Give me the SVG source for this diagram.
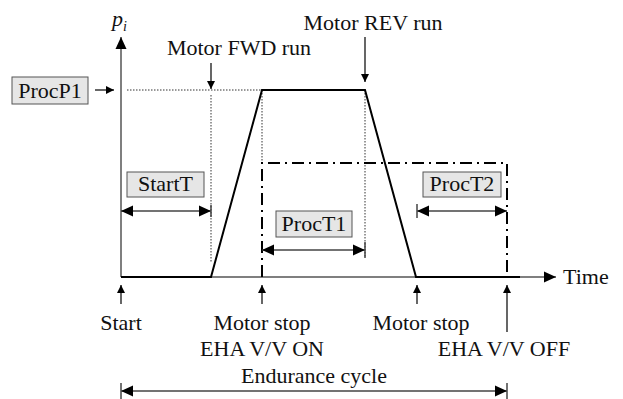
<svg xmlns="http://www.w3.org/2000/svg" width="623" height="399" viewBox="0 0 623 399">
<style>
text{font-family:"Liberation Serif","Times New Roman",serif;font-size:22px;fill:#111}
.mid{text-anchor:middle}
.axis{stroke:#555;stroke-width:1.5;fill:none}
.dim{stroke:#444;stroke-width:1.5;fill:none}
.dot{stroke:#333;stroke-width:1;stroke-dasharray:1.5 1.5;fill:none}
.trace{stroke:#000;stroke-width:2;fill:none;stroke-linejoin:miter}
.dashdot{stroke:#000;stroke-width:2;fill:none;stroke-dasharray:12 5 2 5}
.thin{stroke:#000;stroke-width:1.2;fill:none}
.box{fill:#e6e6e6;stroke:#555;stroke-width:1}
</style>
<defs>
<marker id="big" markerUnits="userSpaceOnUse" markerWidth="13" markerHeight="12" refX="12" refY="6" orient="auto-start-reverse"><path d="M0,0.5 L12,6 L0,11.5 z" fill="#000"/></marker>
<marker id="small" markerUnits="userSpaceOnUse" markerWidth="9" markerHeight="9" refX="8" refY="4.5" orient="auto-start-reverse"><path d="M0,0.5 L8,4.5 L0,8.5 z" fill="#000"/></marker>
</defs>
<g id="connectors">
<line class="axis" x1="121" y1="277" x2="121" y2="37" marker-end="url(#big)"/>
<line class="axis" x1="121" y1="277" x2="556" y2="277" marker-end="url(#big)"/>
<line class="dot" x1="127" y1="90" x2="262" y2="90"/>
<line class="dot" x1="211" y1="95" x2="211" y2="262"/>
<line class="dot" x1="262" y1="90" x2="262" y2="163"/>
<line class="dot" x1="365" y1="90" x2="365" y2="258"/>
<polyline class="trace" points="121,277 211,277 262,90 365,90 416,277 520,277"/>
<path class="dashdot" d="M262,277 V163 H507 V277"/>
<line class="thin" x1="211" y1="63" x2="211" y2="89" marker-end="url(#small)"/>
<line class="thin" x1="365" y1="37" x2="365" y2="82" marker-end="url(#small)"/>
<line class="thin" x1="95" y1="90" x2="114" y2="90" marker-end="url(#small)"/>
<line class="thin" x1="121" y1="304" x2="121" y2="285" marker-end="url(#small)"/>
<line class="thin" x1="262" y1="304" x2="262" y2="285" marker-end="url(#small)"/>
<line class="thin" x1="417" y1="304" x2="417" y2="285" marker-end="url(#small)"/>
<line class="thin" x1="507" y1="332" x2="507" y2="285" marker-end="url(#small)"/>
<line class="dim" x1="121" y1="211" x2="211" y2="211" marker-start="url(#big)" marker-end="url(#big)"/>
<line class="dim" x1="211" y1="205" x2="211" y2="217"/>
<line class="dim" x1="262" y1="250" x2="365" y2="250" marker-start="url(#big)" marker-end="url(#big)"/>
<line class="dim" x1="365" y1="242" x2="365" y2="258"/>
<line class="dim" x1="417" y1="211" x2="507" y2="211" marker-start="url(#big)" marker-end="url(#big)"/>
<line class="dim" x1="417" y1="204" x2="417" y2="218"/>
<line class="dim" x1="121" y1="391" x2="507" y2="391" marker-start="url(#big)" marker-end="url(#big)"/>
<line class="dim" x1="121" y1="383" x2="121" y2="399"/>
<line class="dim" x1="507" y1="383" x2="507" y2="399"/>
</g>
<g id="procP1"><rect class="box" x="12" y="77" width="76" height="27"/><text class="mid" x="50" y="98">ProcP1</text></g>
<g id="startT"><rect class="box" x="127" y="172" width="77" height="25"/><text class="mid" x="165.5" y="191">StartT</text></g>
<g id="procT1"><rect class="box" x="276" y="211" width="76" height="26"/><text class="mid" x="314" y="231">ProcT1</text></g>
<g id="procT2"><rect class="box" x="423" y="172" width="78" height="25"/><text class="mid" x="462" y="191">ProcT2</text></g>
<g id="labels">
<text x="112" y="26" font-style="italic">p</text><text x="123" y="31" font-style="italic" style="font-size:14px">i</text>
<text class="mid" x="239" y="55">Motor FWD run</text>
<text class="mid" x="373" y="30">Motor REV run</text>
<text x="563" y="284">Time</text>
<text class="mid" x="121" y="330">Start</text>
<text class="mid" x="262" y="330">Motor stop</text>
<text class="mid" x="262" y="356">EHA V/V ON</text>
<text class="mid" x="421" y="330">Motor stop</text>
<text class="mid" x="504" y="356">EHA V/V OFF</text>
<text class="mid" x="314" y="383">Endurance cycle</text>
</g>
</svg>
